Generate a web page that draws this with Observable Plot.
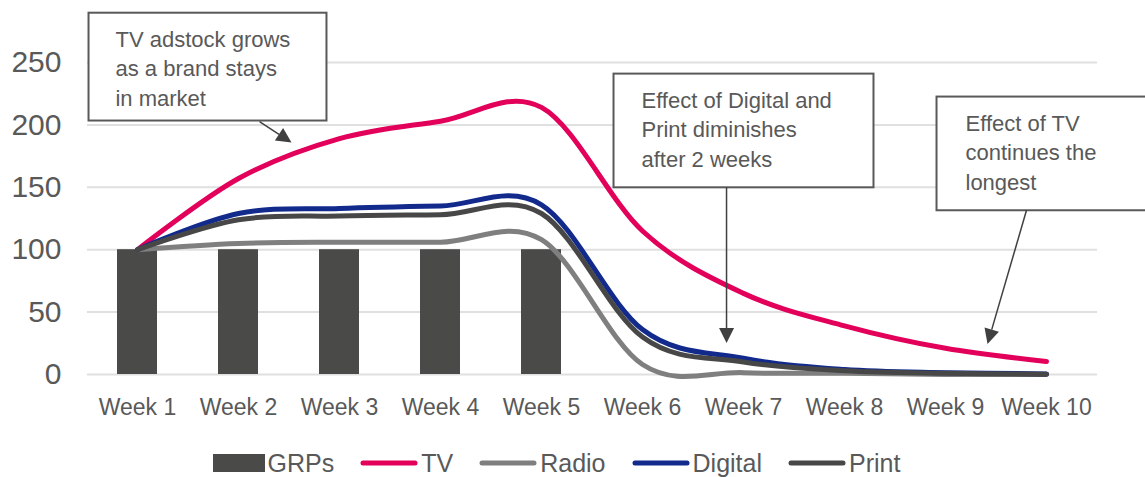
<!DOCTYPE html>
<html><head><meta charset="utf-8">
<script src="https://cdn.jsdelivr.net/npm/d3@7"></script>
<script src="https://cdn.jsdelivr.net/npm/@observablehq/plot@0.6"></script>
<style>
body{margin:0;background:#fff;font-family:"Liberation Sans",Arial,sans-serif;}
#chart svg{display:block}
g[aria-label^="x-axis"] text{font-size:23px;}
g[aria-label^="y-axis"] text{font-size:30px;}
.legend{display:flex;justify-content:center;align-items:center;gap:26px;height:46px;font-size:25px;color:#595959;padding-right:32px;box-sizing:border-box;width:1145px}
.item{display:flex;align-items:center;gap:3px}
.item svg{display:block}
</style></head><body>
<div id="chart"></div>
<div class="legend" id="legend"></div>
<script>
// ---- data ----
const weeks = ["Week 1","Week 2","Week 3","Week 4","Week 5","Week 6","Week 7","Week 8","Week 9","Week 10"];
const grps = [100,100,100,100,100,null,null,null,null,null];
const tv = [100,157,189,203,214,115,65,39,21,10.5];
const radio = [100,105,106,106,108,8,1.5,1,0,0];
const digital = [100,129,133,135,136,36,13,4,1.5,0.5];
const print = [100,124,127,128,129,30,10,3,1,0.3];
const yTicks = [0,50,100,150,200,250];
const seriesNames = ["GRPs","TV","Radio","Digital","Print"];
const seriesColors = ["#4a4a48","#e2005a","#7f7f7f","#112a8c","#474747"];

// annotations: box [x-left, x-right (fractional week index), y-top, y-bottom (values)], text x, arrow from/to
const notes = [
  {lines:["TV adstock grows","as a brand stays","in market"], box:[-0.48,1.876,289.5,203.1], tx:-0.213, from:[1.213,202.3], to:[1.530,185.5]},
  {lines:["Effect of Digital and","Print diminishes","after 2 weeks"], box:[4.718,7.292,240.7,149.6], tx:4.995, from:[5.837,149.6], to:[5.837,24.8]},
  {lines:["Effect of TV","continues the","longest"], box:[7.916,10.2,222.3,131.2], tx:8.203, from:[8.807,131.2], to:[8.421,24]}
];

const bars = weeks.map((w,i)=>({week:w, value:grps[i]})).filter(d=>d.value!=null);
const mk = (arr)=>weeks.map((w,i)=>({week:w, value:arr[i]}));
const seriesData = {TV:mk(tv), Radio:mk(radio), Digital:mk(digital), Print:mk(print)};

function annotations(index, scales, values, dimensions) {
  const X = scales.x, Y = scales.y;
  const bw = typeof X.bandwidth === "function" ? X.bandwidth() : 0;
  const c0 = X(weeks[0]) + bw/2;
  const step = X(weeks[1]) - X(weeks[0]);
  const px = xi => c0 + xi*step;
  const g = d3.create("svg:g").attr("text-anchor","start");
  for (const n of notes) {
    const x1 = px(n.box[0]), x2 = px(n.box[1]), y1 = Y(n.box[2]), y2 = Y(n.box[3]);
    g.append("rect").attr("x",x1).attr("y",y1).attr("width",x2-x1).attr("height",y2-y1)
      .attr("fill","#fff").attr("stroke","#595959").attr("stroke-width",2);
    n.lines.forEach((t,k)=>{
      g.append("text").attr("x",px(n.tx)).attr("y",y1+34+k*29.5)
        .attr("text-anchor","start")
        .attr("fill","#595959").attr("font-size",22).text(t);
    });
    const ax1 = px(n.from[0]), ay1 = Y(n.from[1]), ax2 = px(n.to[0]), ay2 = Y(n.to[1]);
    const ang = Math.atan2(ay2-ay1, ax2-ax1);
    const L = 15, W = 7.5;
    const bx = ax2 - L*Math.cos(ang), by = ay2 - L*Math.sin(ang);
    g.append("line").attr("x1",ax1).attr("y1",ay1).attr("x2",bx).attr("y2",by)
      .attr("stroke","#404040").attr("stroke-width",1.5);
    const nx = -Math.sin(ang), ny = Math.cos(ang);
    g.append("path").attr("d",`M${ax2},${ay2}L${bx+nx*W},${by+ny*W}L${bx-nx*W},${by-ny*W}Z`)
      .attr("fill","#404040");
  }
  return g.node();
}

const lineMarks = ["TV","Radio","Digital","Print"].map(s =>
  Plot.line(seriesData[s], {x:"week", y:"value", stroke: seriesColors[seriesNames.indexOf(s)],
    strokeWidth:5, curve:"cardinal", tension:0, strokeLinecap:"round", strokeLinejoin:"round"}));

const chart = Plot.plot({
  width:1145, height:440,
  marginLeft:87, marginRight:48, marginTop:62, marginBottom:66,
  x:{domain:weeks, paddingInner:0.6, paddingOuter:0.3, tickSize:0, tickPadding:24, label:null},
  y:{domain:[0,250], ticks:yTicks, tickSize:0, tickPadding:26, label:null},
  style:{color:"#595959", fontFamily:"'Liberation Sans', Arial, sans-serif", background:"white", overflow:"visible"},
  marks:[
    Plot.ruleY(yTicks, {stroke:"#e0e0e0", strokeWidth:2}),
    Plot.barY(bars, {x:"week", y:"value", fill:seriesColors[0]}),
    ...lineMarks,
    annotations
  ]
});
document.getElementById("chart").appendChild(chart);

// legend
const leg = document.getElementById("legend");
seriesNames.forEach((s,i)=>{
  const it = document.createElement("div"); it.className="item";
  const sw = i===0
    ? `<svg width="52" height="20"><rect x="0" y="1" width="52" height="18" fill="${seriesColors[i]}"/></svg>`
    : `<svg width="58" height="10"><line x1="3" y1="5" x2="55" y2="5" stroke="${seriesColors[i]}" stroke-width="5" stroke-linecap="round"/></svg>`;
  it.innerHTML = sw + `<span>${s}</span>`;
  leg.appendChild(it);
});
</script>
</body></html>
